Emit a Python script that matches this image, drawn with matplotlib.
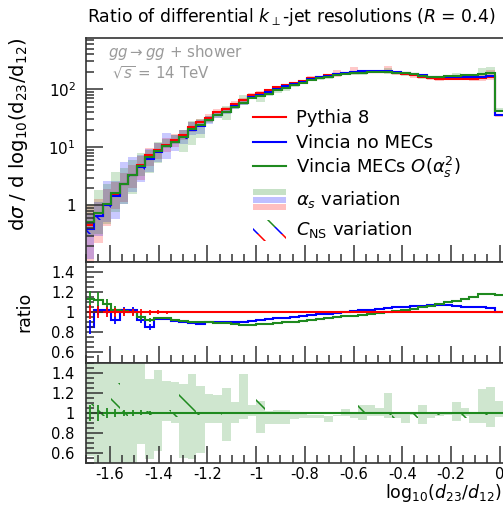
import numpy as np
import matplotlib
matplotlib.use("Agg")
import matplotlib.pyplot as plt
from matplotlib.ticker import (AutoMinorLocator, FuncFormatter, MultipleLocator,
                               FixedLocator, FixedFormatter, LogLocator, NullFormatter)
from matplotlib.patches import Rectangle
from matplotlib.lines import Line2D

DPI = 72
K = 100.0 / DPI          # sizes below are given as "points at 100 dpi"


def P(v):
    return v * K


plt.rcParams['font.family'] = ['DejaVu Sans']
plt.rcParams['mathtext.fontset'] = 'dejavusans'
plt.rcParams['axes.unicode_minus'] = False
plt.rcParams['hatch.linewidth'] = P(1.1)

# ---------------- data ----------------
x_start = -1.70
bin_width = 0.035
n_bins = 49
edges = np.linspace(x_start, x_start + n_bins * bin_width, n_bins + 1)
centers = 0.5 * (edges[:-1] + edges[1:])

xticks = [-1.6, -1.4, -1.2, -1.0, -0.8, -0.6, -0.4, -0.2, 0.0]
xtick_labels = ['-1.6', '-1.4', '-1.2', '-1', '-0.8', '-0.6', '-0.4', '-0.2', '0']

pythia = [0.46, 0.643, 0.99, 1.56, 2.28, 3.29, 4.95, 7.22, 9.0, 11.06,
          13.5, 16.5, 22.3, 26.6, 32.3, 40.2, 45.6, 56.0, 64.9, 78.6,
          86.0, 94.9, 107.3, 117.8, 129.3, 139.9, 154.6, 163.6, 172.5, 182.2,
          188.5, 192.7, 197.9, 197.0, 197.0, 195.0, 188.0, 181.5, 173.0, 162.0,
          154.0, 152.0, 150.0, 151.0, 152.0, 152.0, 155.0, 160.0, 35.4]

ratio_nomec = [0.85, 1.02, 1.02, 0.92, 1.02, 1.025, 0.92, 0.855, 0.935, 0.935,
               0.91, 0.905, 0.895, 0.885, 0.905, 0.905, 0.90, 0.905, 0.905, 0.915,
               0.92, 0.93, 0.94, 0.945, 0.955, 0.96, 0.97, 0.98, 0.985, 0.995,
               1.005, 1.01, 1.02, 1.025, 1.03, 1.04, 1.05, 1.055, 1.06, 1.065,
               1.07, 1.075, 1.075, 1.065, 1.055, 1.05, 1.05, 1.04, 1.0]

ratio_mec = [1.13, 1.12, 1.08, 1.02, 1.01, 1.00, 0.95, 0.92, 0.945, 0.94,
             0.92, 0.915, 0.905, 0.90, 0.905, 0.895, 0.89, 0.885, 0.872, 0.878,
             0.88, 0.885, 0.89, 0.90, 0.905, 0.915, 0.925, 0.935, 0.945, 0.955,
             0.96, 0.965, 0.97, 0.985, 0.99, 1.0, 1.01, 1.025, 1.035, 1.05,
             1.065, 1.08, 1.10, 1.11, 1.13, 1.155, 1.185, 1.185, 1.175]

# statistical errors (relative) for the first bins
err_pythia = [0.07, 0.06, 0.05, 0.045, 0.04, 0.035, 0.03, 0.025, 0.02, 0.015,
              0.012, 0.01, 0.01, 0.008, 0.008, 0.006, 0.006, 0.005, 0.005, 0.004]
err_nomec = [0.07, 0.05, 0.04, 0.04, 0.03, 0.03, 0.025, 0.03]
err_mec = [0.08, 0.08, 0.05, 0.04, 0.03, 0.03, 0.025, 0.02]

# alpha_s variation envelopes (factor relative to central value)
mec_as_up = [2.0, 2.5, 2.2, 2.3, 1.9, 1.8, 1.7, 1.34, 1.43, 1.32,
             1.31, 1.29, 1.39, 1.27, 1.19, 1.18, 1.25, 1.11, 1.39, 1.08,
             1.12, 1.02, 1.03, 1.03, 1.00, 1.00, 0.98, 0.98, 0.97, 0.98,
             1.04, 1.00, 1.08, 1.08, 1.05, 1.20, 1.00, 1.00, 1.00, 1.08,
             1.00, 0.99, 1.00, 1.11, 1.05, 1.00, 1.24, 1.26, 1.12]
mec_as_dn = [0.57, 0.45, 0.45, 0.48, 0.45, 0.48, 0.69, 0.54, 0.62, 0.92,
             0.90, 0.55, 0.54, 0.60, 0.90, 0.90, 0.72, 0.90, 0.94, 0.97,
             0.80, 0.89, 0.89, 0.89, 0.94, 0.95, 0.95, 0.95, 0.91, 0.97,
             0.97, 0.95, 0.93, 0.97, 0.97, 0.95, 0.95, 0.90, 0.98, 0.89,
             0.95, 0.965, 0.98, 0.92, 0.97, 0.90, 0.90, 0.86, 0.96]
pythia_as_up = [2.2, 2.0, 1.9, 1.6, 1.6, 1.5, 1.45, 1.35, 1.3, 1.3,
                1.25, 1.2, 1.2, 1.15, 1.15, 1.12, 1.1, 1.1, 1.08, 1.08,
                1.06, 1.06, 1.05, 1.05, 1.04, 1.04, 1.08, 1.03, 1.04, 1.15,
                1.03, 1.25, 1.04, 1.03, 1.03, 1.30, 1.03, 1.03, 1.02, 1.02,
                1.05, 1.10, 1.03, 1.03, 1.02, 1.05, 1.15, 1.35, 1.05]
pythia_as_dn = [0.2, 0.35, 0.45, 0.55, 0.5, 0.6, 0.55, 0.65, 0.7, 0.75,
                0.75, 0.8, 0.82, 0.85, 0.85, 0.88, 0.9, 0.9, 0.92, 0.92,
                0.93, 0.93, 0.94, 0.95, 0.95, 0.96, 0.92, 0.96, 0.96, 0.9,
                0.96, 0.95, 0.97, 0.97, 0.97, 0.97, 0.92, 0.97, 0.9, 0.97,
                0.95, 0.9, 0.97, 0.97, 0.98, 0.9, 0.9, 0.88, 0.95]
nomec_as_up = [1.8, 1.7, 2.6, 1.8, 2.4, 2.0, 1.6, 1.5, 1.4, 1.7,
               1.3, 1.3, 1.35, 1.25, 1.2, 1.15, 1.12, 1.12, 1.1, 1.1,
               1.08, 1.08, 1.06, 1.05, 1.05, 1.04, 1.04, 1.05, 1.03, 1.03,
               1.04, 1.03, 1.05, 1.03, 1.03, 1.03, 1.03, 1.03, 1.03, 1.03,
               1.03, 1.03, 1.03, 1.03, 1.03, 1.03, 1.05, 1.06, 1.04]
nomec_as_dn = [0.3, 0.45, 0.5, 0.4, 0.45, 0.5, 0.55, 0.6, 0.65, 0.6,
               0.7, 0.75, 0.8, 0.72, 0.85, 0.88, 0.9, 0.9, 0.92, 0.93,
               0.93, 0.94, 0.95, 0.95, 0.96, 0.96, 0.96, 0.96, 0.97, 0.97,
               0.97, 0.97, 0.97, 0.97, 0.97, 0.97, 0.97, 0.97, 0.97, 0.97,
               0.97, 0.97, 0.97, 0.97, 0.97, 0.97, 0.96, 0.95, 0.96]

# C_NS variation envelopes (factor relative to central value)
mec_cns_up = [1.09, 1.03, 1.03, 1.30, 1.02, 1.02, 1.02, 1.02, 1.08, 1.03,
              1.00, 1.29, 1.15, 1.00, 1.00, 1.00, 1.00, 1.00, 1.00, 1.00,
              1.22, 1.00, 1.00, 1.00, 1.00, 1.00, 1.00, 1.00, 1.00, 1.00,
              1.00, 1.00, 1.14, 1.05, 1.00, 1.00, 1.00, 1.00, 1.00, 1.00,
              1.00, 1.00, 1.00, 1.00, 1.00, 1.00, 1.00, 1.00, 1.00]
mec_cns_dn = [0.90, 0.95, 0.97, 0.97, 0.97, 0.98, 0.98, 0.98, 0.98, 0.97,
              0.96, 1.00, 1.00, 0.98, 0.98, 0.98, 0.99, 1.00, 0.99, 0.99,
              1.00, 0.99, 0.99, 0.98, 0.99, 0.99, 0.98, 0.99, 0.99, 0.99,
              0.99, 0.99, 1.00, 1.00, 0.95, 0.98, 0.95, 0.98, 0.95, 0.98,
              0.95, 0.98, 0.95, 0.98, 0.95, 0.98, 0.95, 0.98, 0.97]
nomec_cns_dn = [0.80, 0.85, 0.85, 0.88, 0.88, 0.90, 0.90, 0.90, 0.92, 0.92,
                0.94, 0.94, 0.95, 0.96, 0.96, 0.97, 1.0, 1.0, 1.0, 1.0,
                1.0, 1.0, 1.0, 1.0, 1.0, 1.0, 1.0, 1.0, 1.0, 1.0,
                1.0, 1.0, 1.0, 1.0, 1.0, 1.0, 1.0, 1.0, 1.0, 1.0,
                1.0, 1.0, 1.0, 1.0, 1.0, 1.0, 0.97, 0.97, 1.0]

labels = ["Pythia 8", "Vincia no MECs", r"Vincia MECs $O(\alpha_s^2)$"]

# ---------------- style ----------------
RED, BLUE, GREEN = '#ff0000', '#0000ff', '#1f8a1f'
BAND_ALPHA = 0.21
SPINE = '#333333'
W, H = 503, 513
LW = P(1.5)


def fx(px):
    return px / W


def fy(py):
    return 1 - py / H


pythia_a = np.array(pythia)
nomec_a = pythia_a * np.array(ratio_nomec)
mec_a = pythia_a * np.array(ratio_mec)

fig = plt.figure(figsize=(W / DPI, H / DPI), dpi=DPI)
px_per_unit = 243.5
xlim = (-1.70, 0.10)
left_px = 85.65
width_px = (xlim[1] - xlim[0]) * px_per_unit
ax0 = fig.add_axes([fx(left_px), fy(262), width_px / W, 224 / H])
ax1 = fig.add_axes([fx(left_px), fy(362.5), width_px / W, 100.5 / H])
ax2 = fig.add_axes([fx(left_px), fy(463), width_px / W, 100.5 / H])

for ax in (ax0, ax1, ax2):
    ax.set_xlim(*xlim)
    ax.spines['right'].set_visible(False)
    for s in ax.spines.values():
        s.set_color(SPINE)
        s.set_linewidth(P(1.2))
    ax.tick_params(which='both', direction='in', top=False, right=False,
                   color=SPINE, width=P(1.1), labelsize=P(10.5))
    ax.tick_params(which='major', length=P(12))
    ax.tick_params(which='minor', length=P(6))
    ax.xaxis.set_major_locator(FixedLocator(xticks))
    ax.xaxis.set_minor_locator(AutoMinorLocator(4))

fmt = FuncFormatter(lambda v, p: '%g' % (round(v, 3) + 0.0))

# ---------------- main panel ----------------
ax0.set_yscale('log')
ax0.set_ylim(0.105, 760)
ax0.set_xlim(*xlim)
series = [(pythia_a, pythia_as_up, pythia_as_dn, RED),
          (nomec_a, nomec_as_up, nomec_as_dn, BLUE),
          (mec_a, mec_as_up, mec_as_dn, GREEN)]
for vals, up, dn, c in series:
    ax0.stairs(vals * np.array(up), edges, baseline=vals * np.array(dn),
               fill=True, color=c, alpha=BAND_ALPHA, lw=0)
ax0.stairs(nomec_a, edges, baseline=nomec_a * np.array(nomec_cns_dn), fill=True,
           facecolor='none', edgecolor=BLUE, hatch='\\', lw=0)
for vals, up, dn, c in series:
    ax0.stairs(vals, edges, baseline=None, color=c, lw=LW)
ax0.yaxis.set_major_locator(FixedLocator([1, 10, 100]))
ax0.yaxis.set_major_formatter(FixedFormatter(['1', r'$10^{1}$', r'$10^{2}$']))
ax0.yaxis.set_minor_locator(LogLocator(base=10, subs=np.arange(2, 10) * 1.0, numticks=20))
ax0.yaxis.set_minor_formatter(NullFormatter())
ax0.tick_params(axis='y', which='major', pad=P(7), labelsize=P(11))
ax0.tick_params(axis='x', labelbottom=False)

fig.text(fx(108), fy(57), r'$gg \to gg$ + shower',
         color='#9a9a9a', fontsize=P(10.8), va='baseline', ha='left')
fig.text(fx(112), fy(78.5), r'$\sqrt{s}$ = 14 TeV',
         color='#9a9a9a', fontsize=P(10.8), va='baseline', ha='left')

# ---------------- ratio panel 1 ----------------
ax1.set_ylim(0.5, 1.5)
ax1.stairs(ratio_nomec, edges, baseline=None, color=BLUE, lw=LW)
ax1.stairs(ratio_mec, edges, baseline=None, color=GREEN, lw=LW)
ax1.errorbar(centers[:len(err_nomec)], ratio_nomec[:len(err_nomec)], yerr=err_nomec,
             fmt='none', ecolor=BLUE, elinewidth=P(1.3))
ax1.errorbar(centers[:len(err_mec)], ratio_mec[:len(err_mec)], yerr=err_mec,
             fmt='none', ecolor=GREEN, elinewidth=P(1.3))
ax1.stairs(np.ones(n_bins), edges, baseline=None, color=RED, lw=LW)
ax1.errorbar(centers[:len(err_pythia)], np.ones(len(err_pythia)), yerr=err_pythia,
             fmt='none', ecolor=RED, elinewidth=P(1.3))

# ---------------- ratio panel 2 ----------------
ax2.set_ylim(0.5, 1.5)
ax2.stairs(mec_as_up, edges, baseline=mec_as_dn, fill=True, color=GREEN,
           alpha=BAND_ALPHA, lw=0)
ax2.stairs(mec_cns_up, edges, baseline=mec_cns_dn, fill=True, facecolor='none',
           edgecolor=GREEN, hatch='\\', lw=0)
ax2.stairs(np.ones(n_bins), edges, baseline=None, color=GREEN, lw=LW)
ax2.errorbar(centers[:len(err_mec)], np.ones(len(err_mec)), yerr=err_mec,
             fmt='none', ecolor=GREEN, elinewidth=P(1.3))

for ax in (ax1, ax2):
    ax.set_xlim(*xlim)
    ax.yaxis.set_major_locator(MultipleLocator(0.2))
    ax.yaxis.set_minor_locator(AutoMinorLocator(4))
    ax.yaxis.set_major_formatter(fmt)
    ax.tick_params(axis='y', which='major', pad=P(8))
ax1.tick_params(axis='x', labelbottom=False)
ax2.xaxis.set_major_formatter(FixedFormatter(xtick_labels))
ax2.tick_params(axis='x', which='major', pad=P(3))

# ---------------- labels ----------------
fig.text(fx(87), fy(22), r'Ratio of differential $k_\perp$-jet resolutions ($R$ = 0.4)',
         fontsize=P(12.4), ha='left', va='baseline')
fig.text(fx(18.5), fy(38), r'd$\sigma$ / d log$_{10}$(d$_{23}$/d$_{12}$)',
         rotation=90, fontsize=P(14), ha='center', va='top')
fig.text(fx(24), fy(312), 'ratio', rotation=90, fontsize=P(12.5), ha='center', va='center')
fig.text(fx(502), fy(497.5), r'log$_{10}$($d_{23}$/$d_{12}$)', fontsize=P(12.5),
         ha='right', va='baseline')

# ---------------- legend ----------------
leg_x0, leg_x1, leg_tx = 253, 286, 296
for (ly, lb), c, lab in zip([(117, 123), (142, 148.3), (166, 172.7)], [RED, BLUE, GREEN], labels):
    fig.add_artist(Line2D([fx(leg_x0), fx(leg_x1)], [fy(ly), fy(ly)], color=c, lw=LW))
    fig.text(fx(leg_tx), fy(lb), lab, fontsize=P(13), ha='left', va='baseline')
for i, c in enumerate([GREEN, BLUE, RED]):
    top = 189 + i * 7.5
    fig.add_artist(Rectangle((fx(leg_x0), fy(top + 6)), (leg_x1 - leg_x0) / W, 6 / H,
                             transform=fig.transFigure, color=c, alpha=0.25, lw=0))
fig.text(fx(leg_tx), fy(205), r'$\alpha_s$ variation', fontsize=P(13), ha='left', va='baseline')
for i, c in enumerate([GREEN, BLUE, RED]):
    top = 220 + i * 7
    fig.add_artist(Rectangle((fx(leg_x0), fy(top + 7)), (leg_x1 - leg_x0) / W, 7 / H,
                             transform=fig.transFigure, facecolor='none', edgecolor=c,
                             hatch='\\', lw=0))
fig.text(fx(leg_tx), fy(235), r'$C_{\rm NS}$ variation', fontsize=P(13), ha='left', va='baseline')

fig.savefig('out.png', dpi=DPI)
